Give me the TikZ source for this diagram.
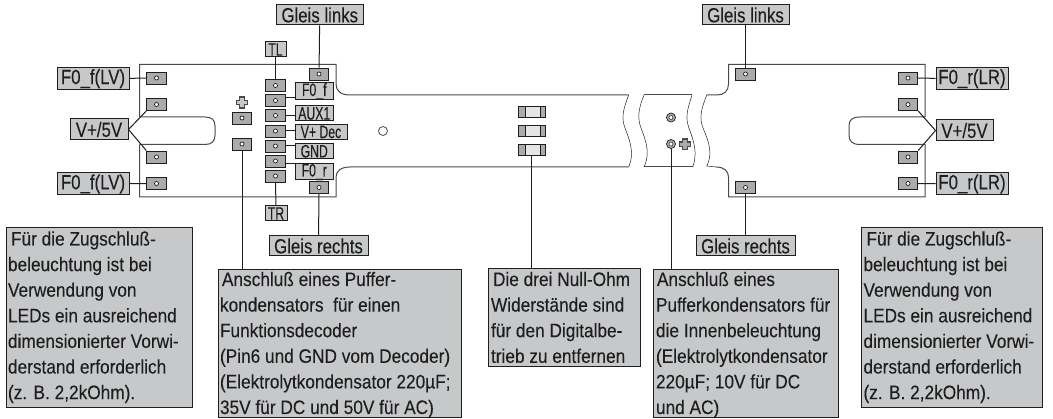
\documentclass[tikz,border=0pt]{standalone}
\usepackage{fontspec}
\setmainfont{Liberation Sans}
\newfontfamily\fbig[FakeStretch=0.82,FakeBold=0.12]{Liberation Sans}
\newfontfamily\fsmall[FakeStretch=0.68,FakeBold=0.12]{Liberation Sans}
\newfontfamily\ftxt[FakeStretch=0.885,FakeBold=0.12]{Liberation Sans}
\definecolor{boxgray}{HTML}{C7C8CA}
\definecolor{padgray}{HTML}{ABABAD}
\definecolor{ink}{HTML}{1E1E1E}
\definecolor{edge}{HTML}{4A4A4A}
\newcommand{\Ln}[1]{\mbox{#1}\\}
\newcommand{\boxtext}[4]{\parbox[c][#2pt][t]{#1pt}{\ftxt\fontsize{19.5}{25.6}\selectfont\raggedright\rule{0pt}{#3pt}#4}}
\tikzset{
  bigl/.style={draw=ink,line width=1pt,fill=boxgray,inner sep=0pt,text=ink,font=\fbig\fontsize{20.5}{22}\selectfont,minimum height=21pt},
  smalll/.style={draw=ink,line width=1pt,fill=boxgray,inner sep=0pt,text=ink,font=\fsmall\fontsize{18}{18}\selectfont},
  notebox/.style={draw=ink,line width=1pt,fill=boxgray,inner sep=0pt,text=ink},
  pad/.style={draw=ink,line width=.8pt,fill=padgray,minimum width=19.5pt,minimum height=12pt,inner sep=0pt,
    path picture={\filldraw[draw=ink,fill=white,line width=.7pt] (path picture bounding box.center) circle (2pt);}},
  hole/.style={circle,draw=edge,line width=.8pt,fill=white,minimum size=9pt,inner sep=0pt},
  ringhole/.style={circle,draw=ink,line width=.7pt,fill=padgray,minimum size=9pt,inner sep=0pt,
    path picture={\filldraw[draw=ink,fill=white,line width=.5pt] (path picture bounding box.center) circle (2pt);}},
  res/.style={draw=ink,line width=.7pt,fill=black!10,minimum width=27pt,minimum height=11pt,inner sep=0pt,
    path picture={\fill[padgray] (path picture bounding box.south west) rectangle ++(7pt,11pt);
      \fill[padgray] (path picture bounding box.south east) rectangle ++(-5pt,11pt);
      \draw[ink,line width=.5pt] ([xshift=7pt]path picture bounding box.south west) -- ([xshift=7pt]path picture bounding box.north west);
      \draw[ink,line width=.5pt] ([xshift=-5pt]path picture bounding box.south east) -- ([xshift=-5pt]path picture bounding box.north east);}},
  conn/.style={draw=ink,line width=1pt},
  board/.style={draw=edge,line width=1pt},
  cut/.style={draw=ink,line width=.5pt},
}
\begin{document}
\begin{tikzpicture}[x=1pt,y=-1pt]
\useasboundingbox (0,0) rectangle (1053,419);
% boards
\draw[board] (139.5,117) -- (205,117) .. controls (212,117) and (215,120) .. (215,126) -- (215,135) .. controls (215,141) and (212,144.5) .. (205,144.5) -- (139.5,144.5);
\draw[board] (139.5,117) -- (139.5,64.5) -- (336,64.5) -- (336,84) .. controls (336,91) and (341,95) .. (350,95) -- (628.7,95);
\draw[board] (139.5,144.5) -- (139.5,197) -- (336,197) -- (336,177) .. controls (336,171) and (341,167) .. (350,167) -- (628.7,167);
\draw[board] (644,95) -- (692,95);
\draw[board] (644,167) -- (692.7,167);
\draw[cut] (628.7,95) .. controls (625,105) and (621,115) .. (624,125) .. controls (627,135) and (636,150) .. (628.7,167);
\draw[cut] (644,95) .. controls (640,105) and (637,115) .. (640,125) .. controls (643,135) and (652,150) .. (644,167);
\draw[cut] (692,95) .. controls (689,105) and (685,115) .. (688,125) .. controls (691,135) and (699,150) .. (692.7,167);
\draw[cut] (706.7,95) .. controls (703,105) and (699,115) .. (702,125) .. controls (705,135) and (715,150) .. (706.7,166) -- (716,167);
\draw[board] (706.7,95) -- (717,95) .. controls (724,95) and (728.5,91) .. (728.5,84) -- (728.5,64.5) -- (925,64.5) -- (925,117);
\draw[board] (716,167) .. controls (724,167) and (728.5,171) .. (728.5,177) -- (728.5,197) -- (925,197) -- (925,144.5);
\draw[board] (925,117) -- (860,117) .. controls (852,117) and (849,120) .. (849,126) -- (849,135) .. controls (849,141) and (852,144.5) .. (860,144.5) -- (925,144.5);
% plus signs
\draw[edge,fill=black!22,line width=1.1pt] (239.5,97) -- (244.5,97) -- (244.5,100.2) -- (247.8,100.2) -- (247.8,104.6) -- (244.5,104.6) -- (244.5,108) -- (239.5,108) -- (239.5,104.6) -- (236.2,104.6) -- (236.2,100.2) -- (239.5,100.2) -- cycle;
\draw[edge,fill=padgray,line width=1.1pt] (682.5,139) -- (687.5,139) -- (687.5,142) -- (690.8,142) -- (690.8,146.4) -- (687.5,146.4) -- (687.5,149.8) -- (682.5,149.8) -- (682.5,146.4) -- (679.2,146.4) -- (679.2,142) -- (682.5,142) -- cycle;
% pads
\node[pad] (pa) at (156.5,78) {};
\node[pad] (pb) at (156.5,104.5) {};
\node[pad] (pc) at (156.5,157) {};
\node[pad] (pd) at (156.5,183.5) {};
\node[pad] (pe) at (242,118) {};
\node[pad] (pf) at (242,144) {};
\node[pad] (c1) at (275.5,85.5) {};
\node[pad] (c2) at (275.5,100.5) {};
\node[pad] (c3) at (275.5,115.5) {};
\node[pad] (c4) at (275.5,131) {};
\node[pad] (c5) at (275.5,146) {};
\node[pad] (c6) at (275.5,161) {};
\node[pad] (c7) at (275.5,176) {};
\node[pad] (pt) at (319,74) {};
\node[pad] (pu) at (319,187.5) {};
\node[pad] (qt) at (745.5,74) {};
\node[pad] (qu) at (745.5,187.5) {};
\node[pad] (qa) at (908,78) {};
\node[pad] (qb) at (908,104.5) {};
\node[pad] (qc) at (908,157) {};
\node[pad] (qd) at (908,183.5) {};
% holes and resistors
\node[hole] (h0) at (383,131) {};
\node[ringhole] (h1) at (671,117.5) {};
\node[ringhole] (h2) at (671,144) {};
\node[res] (r1) at (531.5,111.5) {};
\node[res] (r2) at (531.5,130.5) {};
\node[res] (r3) at (531.5,150) {};
% labels
\node[bigl,minimum width=86.5pt,minimum height=20pt] (gl1) at (319.75,15) {Gleis links};
\node[smalll,minimum width=21pt,minimum height=15pt] (tl) at (275.5,49.5) {TL};
\node[smalll,minimum width=38.5pt,minimum height=17pt] (f0f) at (314.25,91.5) {\raisebox{0pt}[12pt][3pt]{F0\_f}};
\node[smalll,minimum width=38.5pt,minimum height=15pt] (aux) at (314.25,113.5) {AUX1};
\node[smalll,minimum width=52pt,minimum height=15.5pt] (vdec) at (321,132) {V+ Dec};
\node[smalll,minimum width=38.5pt,minimum height=14.5pt] (gnd) at (314.25,151.25) {GND};
\node[smalll,minimum width=38.5pt,minimum height=16pt] (f0r) at (314.25,172) {\raisebox{0pt}[12pt][3pt]{F0\_r}};
\node[smalll,minimum width=22pt,minimum height=15pt] (tr) at (276,213.5) {TR};
\node[bigl,minimum width=99pt,minimum height=20pt] (gr1) at (318.5,246) {Gleis rechts};
\node[bigl,minimum width=72pt,minimum height=21.5pt] (lv1) at (93,78.75) {F0\_f(LV)};
\node[bigl,minimum width=72pt,minimum height=22pt] (lv2) at (93,184) {F0\_f(LV)};
\node[bigl,minimum width=58pt,minimum height=21pt] (v1) at (99,129.5) {V+/5V};
\node[bigl,minimum width=72pt,minimum height=21.5pt] (lr1) at (972,78.75) {F0\_r(LR)};
\node[bigl,minimum width=72pt,minimum height=22pt] (lr2) at (972,184) {F0\_r(LR)};
\node[bigl,minimum width=57pt,minimum height=21pt] (v2) at (964.5,130.5) {V+/5V};
\node[bigl,minimum width=87pt,minimum height=20pt] (gl2) at (745.5,15) {Gleis links};
\node[bigl,minimum width=99pt,minimum height=20pt] (gr2) at (745.5,246) {Gleis rechts};
% notes
\node[notebox] (n1) at (99,318) {\boxtext{186}{180}{17.5}{\hspace*{5pt}\Ln{Für die Zugschluß-}\hspace*{2pt}\Ln{beleuchtung ist bei}\hspace*{2pt}\Ln{Verwendung von}\hspace*{2pt}\Ln{LEDs ein ausreichend}\hspace*{2pt}\Ln{dimensionierter Vorwi-}\hspace*{2pt}\Ln{derstand erforderlich}\hspace*{2pt}\mbox{(z. B. 2,2kOhm).}}};
\node[notebox] (n2) at (339.5,344) {\boxtext{243}{148}{16}{\hspace*{4pt}\Ln{Anschluß eines Puffer-}\hspace*{2pt}\Ln{kondensators\ \ für einen}\hspace*{2pt}\Ln{Funktionsdecoder}\hspace*{2pt}\Ln{(Pin6 und GND vom Decoder)}\hspace*{2pt}\Ln{(Elektrolytkondensator 220µF;}\hspace*{2pt}\mbox{35V für DC und 50V für AC)}}};
\node[notebox] (n3) at (564,318) {\boxtext{152}{98}{17}{\hspace*{5pt}\Ln{Die drei Null-Ohm}\hspace*{3pt}\Ln{Widerstände sind}\hspace*{3pt}\Ln{für den Digitalbe-}\hspace*{3pt}\mbox{trieb zu entfernen}}};
\node[notebox] (n4) at (745.5,344) {\boxtext{185}{148}{16}{\hspace*{4pt}\Ln{Anschluß eines}\hspace*{3pt}\Ln{Pufferkondensators für}\hspace*{3pt}\Ln{die Innenbeleuchtung}\hspace*{3pt}\Ln{(Elektrolytkondensator}\hspace*{3pt}\Ln{220µF; 10V für DC}\hspace*{3pt}\mbox{und AC)}}};
\node[notebox] (n5) at (952,318) {\boxtext{181}{180}{17.5}{\hspace*{5pt}\Ln{Für die Zugschluß-}\hspace*{2pt}\Ln{beleuchtung ist bei}\hspace*{2pt}\Ln{Verwendung von}\hspace*{2pt}\Ln{LEDs ein ausreichend}\hspace*{2pt}\Ln{dimensionierter Vorwi-}\hspace*{2pt}\Ln{derstand erforderlich}\hspace*{2pt}\mbox{(z. B. 2,2kOhm).}}};
% connectors
\draw[conn] (gl1) -- (pt);
\draw[conn] (tl) -- (c1);
\draw[conn] ([yshift=2.5pt]c2.east) -- ([yshift=2.5pt]c2.east -| f0f.west);
\draw[conn] (c3) -- (c3 -| aux.west);
\draw[conn] (c4) -- (c4 -| vdec.west);
\draw[conn] (c5) -- (c5 -| gnd.west);
\draw[conn] ([yshift=-2.5pt]c6.east) -- ([yshift=-2.5pt]c6.east -| f0r.west);
\draw[conn] (c7) -- (tr);
\draw[conn] (pu) -- (gr1);
\draw[conn] (lv1) -- (pa);
\draw[conn] (lv2) -- (pd);
\draw[conn] (v1.east) -- (pb.south west);
\draw[conn] (v1.east) -- (pc.north west);
\draw[conn] (lr1) -- (qa);
\draw[conn] (lr2) -- (qd);
\draw[conn] (v2.west) -- (qb.south east);
\draw[conn] (v2.west) -- (qc.north east);
\draw[conn] (gl2) -- (qt);
\draw[conn] (qu) -- (gr2);
\draw[conn] (pf) -- (pf |- n2.north);
\draw[conn] (r3) -- (r3 |- n3.north);
\draw[conn] (h2) -- (h2 |- n4.north);
\end{tikzpicture}
\end{document}
